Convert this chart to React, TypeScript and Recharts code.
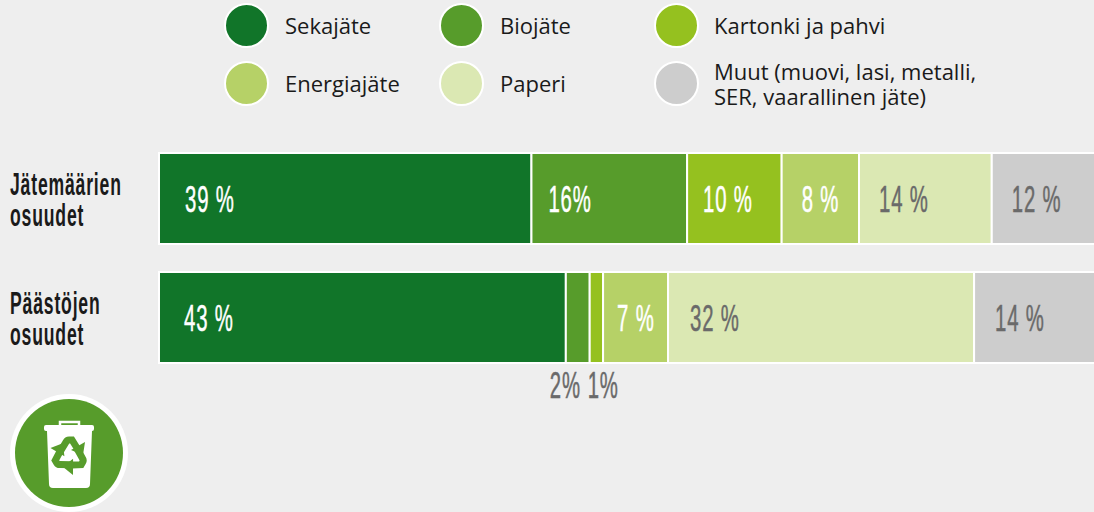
import { BarChart, Bar, XAxis, YAxis, LabelList } from 'recharts'

const rows = ['Jätemäärien osuudet', 'Päästöjen osuudet']
const seriesNames = ['Sekajäte', 'Biojäte', 'Kartonki ja pahvi', 'Energiajäte', 'Paperi', 'Muut']
const seriesColors = ['#117529', '#579c2b', '#95c11f', '#b6d167', '#dbe8b3', '#cdcdcd']

// values measured off the bar widths, printed labels are kept apart since they are rounded
const sekajate = [39, 42.6]
const biojate = [16.3, 2.5]
const kartonki = [9.9, 1.4]
const energiajate = [8.1, 6.8]
const paperi = [13.9, 32.05]
const muut = [12, 14]
const seriesValues = [sekajate, biojate, kartonki, energiajate, paperi, muut]

const seriesLabels = [
  ['39 %', '43 %'],
  ['16%', '2%'],
  ['10 %', '1%'],
  ['8 %', '7 %'],
  ['14 %', '32 %'],
  ['12 %', '14 %'],
]

const labelInsets = [
  [26, 25],
  [17, -16],
  [16, -2],
  [20, 14],
  [20, 22],
  [20, 21],
]
const labelColors = ['#fff', '#fff', '#fff', '#fff', '#6a6a6a', '#6a6a6a']
const belowBar = [false, true, true, false, false, false]

const legendItems = [
  { series: 0, x: 247, y: 26, textX: 285 },
  { series: 1, x: 462, y: 26, textX: 500 },
  { series: 2, x: 677, y: 26, textX: 714 },
  { series: 3, x: 247, y: 84, textX: 285 },
  { series: 4, x: 462, y: 84, textX: 500 },
  { series: 5, x: 677, y: 84, textX: 714 },
]

const data = rows.map((name, i) => {
  const row: Record<string, string | number> = { name }
  seriesNames.forEach((s, k) => {
    row[s] = seriesValues[k][i]
  })
  return row
})

// no narrow face is installed, so the condensed look comes from squeezing the glyphs
const condensed = '"Liberation Sans", sans-serif'

function RowTick({ y, payload }: any) {
  const [first, second] = String(payload.value).split(' ')
  return (
    <g fontFamily={condensed} fontSize={32} fontWeight={700} fill="#1a1a1a" textAnchor="start" letterSpacing={1.5}>
      <text transform={`translate(10 ${y - 4}) scale(0.55 1)`}>{first}</text>
      <text transform={`translate(10 ${y + 27}) scale(0.55 1)`}>{second}</text>
    </g>
  )
}

function SegmentLabel({ x, y, height, index, series }: any) {
  const drop = belowBar[series] && index === 1
  const ty = drop ? y + height + 22 : y + height / 2
  const color = drop ? '#6a6a6a' : labelColors[series]
  return (
    <text
      transform={`translate(${x + labelInsets[series][index]} ${ty + 13}) scale(0.55 1)`}
      fontFamily={condensed}
      fontSize={37}
      letterSpacing={1.5}
      fill={color}
      stroke={color}
      strokeWidth={0.5}
    >
      {seriesLabels[series][index]}
    </text>
  )
}

function RecycleBin() {
  const arrow = (
    <>
      <path d="M60 67L66 57Q67 55 69 55H72L77 63" fill="none" stroke="#579c2b" strokeWidth={7} />
      <path d="M85 57L83 70L71 65z" fill="#579c2b" />
    </>
  )
  return (
    <svg width={140} height={127} viewBox="0 0 140 127" style={{ position: 'absolute', left: 0, top: 385 }}>
      <circle cx={69} cy={68} r={59} fill="#fff" />
      <circle cx={69} cy={68} r={54} fill="#579c2b" />
      <path d="M60 41v-4h19v4" fill="none" stroke="#fff" strokeWidth={2.5} />
      <rect x={44} y={40} width={50} height={6} rx={2} fill="#fff" />
      <path d="M47 46h45l-2 53q0 4-4 4H53q-4 0-4-4z" fill="#fff" />
      <g>{arrow}</g>
      <g transform="rotate(120 69.5 70)">{arrow}</g>
      <g transform="rotate(240 69.5 70)">{arrow}</g>
    </svg>
  )
}

export default function App() {
  return (
    <div
      style={{
        position: 'absolute',
        left: 0,
        top: 0,
        width: 1094,
        height: 512,
        overflow: 'hidden',
        background: '#eeeeee',
      }}
    >
      {legendItems.map((item) => (
        <div key={item.series}>
          <div
            style={{
              position: 'absolute',
              left: item.x - 23,
              top: item.y - 23,
              width: 41,
              height: 41,
              borderRadius: '50%',
              background: seriesColors[item.series],
              border: '2px solid #fff',
            }}
          />
          <div
            style={{
              position: 'absolute',
              left: item.textX,
              top: item.series === 5 ? item.y - 25 : item.y - 13,
              fontFamily: '"Open Sans", sans-serif',
              fontSize: 22,
              lineHeight: '25px',
              color: '#1a1a1a',
              whiteSpace: 'nowrap',
            }}
          >
            {item.series === 5 ? (
              <>
                Muut (muovi, lasi, metalli,
                <br />
                SER, vaarallinen jäte)
              </>
            ) : (
              seriesNames[item.series]
            )}
          </div>
        </div>
      ))}
      <div style={{ position: 'absolute', left: 0, top: 0 }}>
        <BarChart
          width={1130}
          height={512}
          data={data}
          layout="vertical"
          barCategoryGap={0}
          margin={{ top: 139, right: 16, bottom: 135, left: 0 }}
        >
          <XAxis type="number" domain={[0, 100]} hide />
          <YAxis
            type="category"
            dataKey="name"
            width={159}
            axisLine={false}
            tickLine={false}
            tick={<RowTick />}
            interval={0}
          />
          {seriesNames.map((s, k) => (
            <Bar
              key={s}
              dataKey={s}
              stackId="a"
              fill={seriesColors[k]}
              stroke="#fff"
              strokeWidth={2}
              barSize={91}
              isAnimationActive={false}
            >
              <LabelList content={(props: any) => <SegmentLabel {...props} series={k} />} />
            </Bar>
          ))}
        </BarChart>
      </div>
      <RecycleBin />
    </div>
  )
}
